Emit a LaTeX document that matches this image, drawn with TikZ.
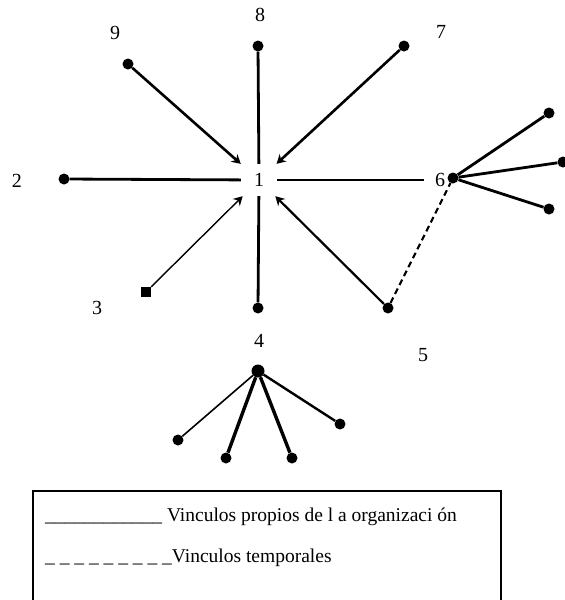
\documentclass[tikz,border=0pt]{standalone}
\usepackage{fontspec}
\setmainfont{Liberation Serif}
\usetikzlibrary{arrows.meta}

\begin{document}
\begin{tikzpicture}[x=1pt,y=-1pt,
  punto/.style={circle,fill=black,inner sep=0pt,minimum size=11pt},
  cuadro/.style={rectangle,fill=black,inner sep=0pt,minimum size=10pt},
  etiq/.style={font=\fontsize{20}{22}\selectfont,inner sep=2pt},
  leyenda/.style={font=\fontsize{19.5}{22}\selectfont,anchor=base west,inner sep=0pt},
  vinculo/.style={line width=2.8pt},
  flecha/.style={line width=2.6pt,-{Stealth[length=9pt,width=10pt]}},
  temporal/.style={line width=2.2pt,dash pattern=on 6pt off 4pt}]
  \useasboundingbox (0,0) rectangle (565,600);
  \clip (0,0) rectangle (565,600);
  \node[etiq,minimum width=36pt,minimum height=32pt] (c1) at (259,180) {1};
  \node[punto] (n8) at (258,46) {};
  \node[punto] (n9) at (128,64) {};
  \node[punto] (n7) at (404,46) {};
  \node[punto] (n2) at (64,179) {};
  \node[punto] (n6) at (453,178) {};
  \node[cuadro] (n3) at (146,292) {};
  \node[punto] (n4) at (258,308) {};
  \node[punto] (n5) at (388,308) {};
  \node[etiq] (l8) at (260,15) {8};
  \node[etiq] (l9) at (115,33) {9};
  \node[etiq] (l7) at (441,32) {7};
  \node[etiq] (l2) at (17,181) {2};
  \node[etiq] (l6) at (440,180) {6};
  \node[etiq] (l3) at (97,308) {3};
  \node[etiq] (l4) at (259,341) {4};
  \node[etiq] (l5) at (423,355) {5};
  \draw[vinculo] (n8) -- (c1);
  \draw[vinculo] (n4) -- (c1);
  \draw[vinculo] (n2) -- (c1);
  \draw[vinculo,shorten >=9pt] (c1) -- (l6);
  \draw[flecha] (n9) -- (c1);
  \draw[flecha] (n7) -- (c1);
  \draw[flecha,line width=1.4pt] (n3) -- (c1);
  \draw[flecha,line width=2.2pt] (n5) -- (c1);
  \draw[temporal] (n5) -- (n6);
  \node[punto] (m1) at (549,113) {};
  \node[punto] (m2) at (563,162) {};
  \node[punto] (m3) at (549,209) {};
  \foreach \m in {m1,m2,m3}
    \draw[vinculo] (n6) -- (\m);
  \node[punto,minimum size=13pt] (g0) at (258,371) {};
  \node[punto] (g1) at (178,440) {};
  \node[punto] (g2) at (226,458) {};
  \node[punto] (g3) at (292,458) {};
  \node[punto] (g4) at (340,424) {};
  \draw[line width=1.6pt] (g0) -- (g1);
  \draw[line width=3.4pt] (g0) -- (g2);
  \draw[line width=3.4pt] (g0) -- (g3);
  \draw[line width=2.4pt] (g0) -- (g4);
  \draw[line width=1.4pt] (33,491) rectangle (501,620);
  \node[leyenda] (ley1) at (45,521)
    {\_\_\_\_\_\_\_\_\_\_\_\_ Vinculos propios de l a organizaci ón};
  \node[leyenda] (ley2) at (45,562)
    {\_ \_ \_ \_ \_ \_ \_ \_ \_Vinculos temporales};
\end{tikzpicture}
\end{document}
